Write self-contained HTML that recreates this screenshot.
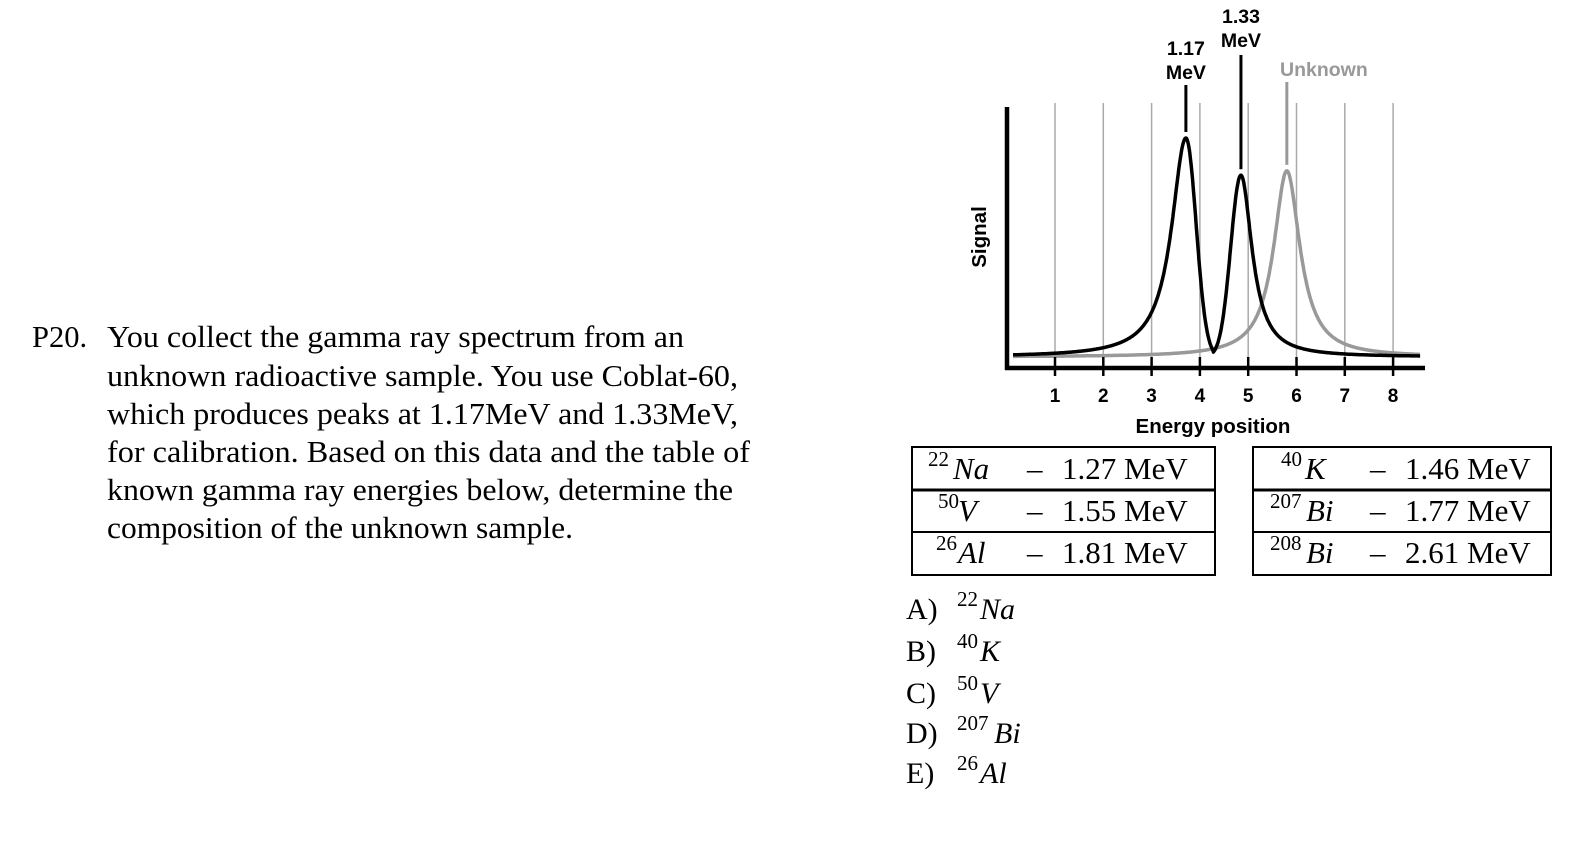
<!DOCTYPE html>
<html><head><meta charset="utf-8"><style>
html,body{margin:0;padding:0;background:#fff;}
svg{display:block;}
.serif{font-family:"Liberation Serif",serif;}
.sans{font-family:"Liberation Sans",sans-serif;font-weight:bold;}
.math{font-family:"Liberation Serif",serif;font-style:italic;}
</style></head><body>
<svg width="1590" height="841" viewBox="0 0 1590 841" xmlns="http://www.w3.org/2000/svg">
<g class="serif" font-size="30.5" fill="#000">
<text x="32" y="347">P20.</text>
<text x="107" y="347" textLength="577" lengthAdjust="spacingAndGlyphs">You collect the gamma ray spectrum from an</text>
<text x="107" y="386" textLength="631" lengthAdjust="spacingAndGlyphs">unknown radioactive sample.  You use Coblat-60,</text>
<text x="107" y="424" textLength="631" lengthAdjust="spacingAndGlyphs">which produces peaks at 1.17MeV and 1.33MeV,</text>
<text x="107" y="462" textLength="643" lengthAdjust="spacingAndGlyphs">for calibration.  Based on this data and the table of</text>
<text x="107" y="500" textLength="626" lengthAdjust="spacingAndGlyphs">known gamma ray energies below, determine the</text>
<text x="107" y="538" textLength="466" lengthAdjust="spacingAndGlyphs">composition of the unknown sample.</text>
</g>
<g id="chart"></g>
<g stroke="#000" stroke-width="2" fill="none">
<rect x="912" y="447" width="303" height="128"/>
<line x1="912" y1="490" x2="1215" y2="490" stroke-width="3"/>
<line x1="912" y1="532" x2="1215" y2="532"/>
</g>
<g stroke="#000" stroke-width="2" fill="none">
<rect x="1253" y="447" width="298" height="128"/>
<line x1="1253" y1="490" x2="1551" y2="490" stroke-width="3"/>
<line x1="1253" y1="532" x2="1551" y2="532"/>
</g>
<g font-size="31" fill="#000">
<text class="serif" x="928" y="466" font-size="21">22</text><text class="math" x="953" y="479">Na</text><text class="serif" x="1027" y="479">–</text><text class="serif" x="1062" y="479">1.27 MeV</text>
<text class="serif" x="938" y="508" font-size="21">50</text><text class="math" x="958" y="521">V</text><text class="serif" x="1027" y="521">–</text><text class="serif" x="1062" y="521">1.55 MeV</text>
<text class="serif" x="936" y="550" font-size="21">26</text><text class="math" x="958" y="563">Al</text><text class="serif" x="1027" y="563">–</text><text class="serif" x="1062" y="563">1.81 MeV</text>
<text class="serif" x="1281" y="466" font-size="21">40</text><text class="math" x="1305" y="479">K</text><text class="serif" x="1370" y="479">–</text><text class="serif" x="1405" y="479">1.46 MeV</text>
<text class="serif" x="1270" y="508" font-size="21">207</text><text class="math" x="1306" y="521">Bi</text><text class="serif" x="1370" y="521">–</text><text class="serif" x="1405" y="521">1.77 MeV</text>
<text class="serif" x="1270" y="550" font-size="21">208</text><text class="math" x="1306" y="563">Bi</text><text class="serif" x="1370" y="563">–</text><text class="serif" x="1405" y="563">2.61 MeV</text>
</g>
<g font-size="30" fill="#000">
<g><text class="serif" x="906" y="619">A)</text><text class="serif" x="957" y="606" font-size="21">22</text><text class="math" x="980" y="619">Na</text></g>
<g><text class="serif" x="906" y="661">B)</text><text class="serif" x="957" y="648" font-size="21">40</text><text class="math" x="980" y="661">K</text></g>
<g><text class="serif" x="906" y="703">C)</text><text class="serif" x="957" y="690" font-size="21">50</text><text class="math" x="980" y="703">V</text></g>
<g><text class="serif" x="906" y="743">D)</text><text class="serif" x="957" y="730" font-size="21">207</text><text class="math" x="994" y="743">Bi</text></g>
<g><text class="serif" x="906" y="783">E)</text><text class="serif" x="957" y="770" font-size="21">26</text><text class="math" x="980" y="783">Al</text></g>
</g>
</svg>
<script>
const tickLabels=["1","2","3","4","5","6","7","8"];
const cobaltPeakPos=[3.71,4.85];
const cobaltPeakHeight=[1.0,0.83];
const cobaltGammaOuter=[0.36,0.28];
const cobaltSigmaInner=[0.3,0.3];
const cobaltDip=4.27;
const unknownPeakPos=[5.8];
const unknownPeakHeight=[0.85];
const unknownGamma=[0.33];
const NS="http://www.w3.org/2000/svg";
const g=document.getElementById('chart');
const X=e=>1055+(e-1)*48.3;
const Y=s=>357-s*219;
function mk(t,a,p){const el=document.createElementNS(NS,t);for(const k in a)el.setAttribute(k,a[k]);(p||g).appendChild(el);return el;}
tickLabels.forEach((t,i)=>{
 const v=+t;
 const gl=mk('line',{x1:X(v),x2:X(v),y1:103,y2:366,stroke:'#aaa','stroke-width':1.5});
 
 
});
function lor(x,p,h,g){return h/(1+((x-p)/g)**2);}
function gau(x,p,h,s){return h*Math.exp(-(((x-p)/s)**2));}
function cobalt(x){
 if(x<cobaltDip){return x<cobaltPeakPos[0]?lor(x,cobaltPeakPos[0],cobaltPeakHeight[0],cobaltGammaOuter[0]):gau(x,cobaltPeakPos[0],cobaltPeakHeight[0],cobaltSigmaInner[0]);}
 return x<cobaltPeakPos[1]?gau(x,cobaltPeakPos[1],cobaltPeakHeight[1],cobaltSigmaInner[1]):lor(x,cobaltPeakPos[1],cobaltPeakHeight[1],cobaltGammaOuter[1]);
}
function unknown(x){let s=0;unknownPeakPos.forEach((p,i)=>s+=lor(x,p,unknownPeakHeight[i],unknownGamma[i]));return s;}
function path(f){let d='';for(let e=0.13;e<=8.56;e+=0.01){d+=(d?'L':'M')+X(e).toFixed(1)+','+Y(f(e)).toFixed(1);}return d;}
const gp=mk('path',{d:path(unknown),fill:'none',stroke:'#999','stroke-width':3.5,'stroke-linejoin':'round'});


const bp=mk('path',{d:path(cobalt),fill:'none',stroke:'#000','stroke-width':3.5,'stroke-linejoin':'round'});


const ya=mk('line',{x1:1007,x2:1007,y1:107,y2:370,stroke:'#000','stroke-width':4.5});


const xa=mk('line',{x1:1005,x2:1425,y1:368,y2:368,stroke:'#000','stroke-width':4.5});


tickLabels.forEach(t=>{
 const v=+t;
 const tk=mk('line',{x1:X(v),x2:X(v),y1:357,y2:376,stroke:'#000','stroke-width':2.5});
 
 
 const tl=mk('text',{x:X(v),y:402,'text-anchor':'middle','font-size':19,class:'sans'});
 tl.textContent=t;
 
 
});
const xt=mk('text',{x:1213,y:433,'text-anchor':'middle','font-size':20.5,class:'sans'});
xt.textContent='Energy position';


const yt=mk('text',{x:0,y:0,'text-anchor':'middle','font-size':20.5,class:'sans',transform:'translate(986,237) rotate(-90)'});
yt.textContent='Signal';


function marker(xe,y1,y2,col,name){const l=mk('line',{x1:X(xe),x2:X(xe),y1:y1,y2:y2,stroke:col,'stroke-width':3});
 
 }
marker(cobaltPeakPos[0],85,Y(cobaltPeakHeight[0])-6,'#000','marker-1-17');
marker(cobaltPeakPos[1],55,Y(cobaltPeakHeight[1])-6,'#000','marker-1-33');
marker(unknownPeakPos[0],82,Y(unknownPeakHeight[0])-6,'#999','marker-unknown');
function lbl(x,y,t,col,anchor,name){const e=mk('text',{x:x,y:y,'text-anchor':anchor,'font-size':19.5,class:'sans',fill:col});e.textContent=t;
 
 }
lbl(X(cobaltPeakPos[0]),55,'1.17','#000','middle','label-1-17-value');
lbl(X(cobaltPeakPos[0]),79,'MeV','#000','middle','label-1-17-unit');
lbl(X(cobaltPeakPos[1]),23,'1.33','#000','middle','label-1-33-value');
lbl(X(cobaltPeakPos[1]),47,'MeV','#000','middle','label-1-33-unit');
lbl(1280,76,'Unknown','#999','start','label-unknown');
</script>
</body></html>
